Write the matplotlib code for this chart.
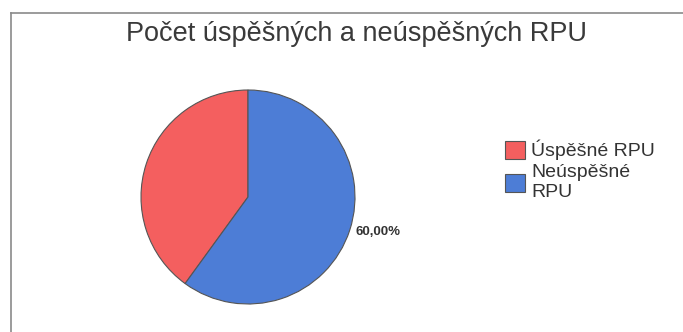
import matplotlib.pyplot as plt
from matplotlib.lines import Line2D

# Počet RPU podle výsledku
labels = ["Úspěšné RPU", "Neúspěšné\nRPU"]
shares = [40, 60]
colors = ["#F45F5F", "#4D7DD6"]

plt.rcParams['font.family'] = ['Liberation Sans', 'DejaVu Sans']

W, H = 683, 332
fig = plt.figure(figsize=(W / 100, H / 100), dpi=100)

# ram grafu (horni a leva cara)
fig.add_artist(Line2D([11 / W, 1], [1 - 13 / H, 1 - 13 / H], color="#8a8a8a", lw=1.2))
fig.add_artist(Line2D([11 / W, 11 / W], [0, 1 - 13 / H], color="#8a8a8a", lw=1.2))

fig.text(356 / W, 1 - 41 / H, "Počet úspěšných a neúspěšných RPU",
         ha="center", va="baseline", fontsize=19.5, color="#3a3a3a")

# kolac
cx, cy, r = 248, 197, 107
ax = fig.add_axes([(cx - r) / W, (H - cy - r) / H, 2 * r / W, 2 * r / H])
total = sum(shares)
pct = ["", f"{shares[1] / total * 100:.2f}%".replace(".", ",")]
wedges, texts = ax.pie(shares, colors=colors, startangle=90, counterclock=True,
                       labels=pct, labeldistance=1.06,
                       wedgeprops=dict(edgecolor="#555555", linewidth=0.8),
                       textprops=dict(fontsize=9.5, fontweight="bold", color="#333333"))
ax.set_xlim(-1, 1)
ax.set_ylim(-1, 1)
ax.set_aspect("equal")

leg = fig.legend(wedges, labels, loc="upper left",
                 bbox_to_anchor=(505 / W, 1 - 140 / H),
                 frameon=False, fontsize=14, handlelength=1.05, handleheight=1.05,
                 handletextpad=0.3, labelspacing=0.2, borderaxespad=0, borderpad=0)
for t in leg.get_texts():
    t.set_color("#333333")

fig.savefig("out.png", dpi=100, facecolor="white")
